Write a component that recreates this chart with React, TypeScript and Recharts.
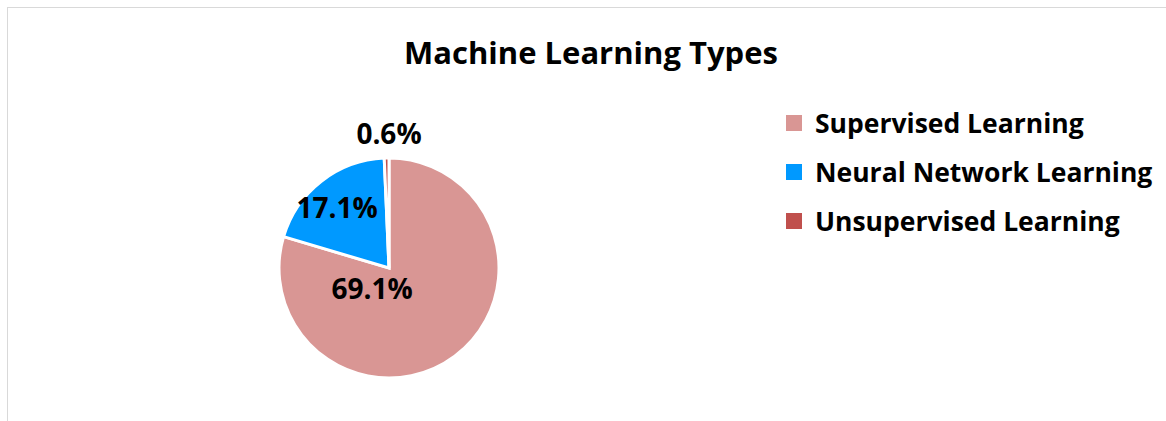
import { PieChart, Pie, Cell, Legend } from 'recharts';

const categories = ['Supervised Learning', 'Neural Network Learning', 'Unsupervised Learning'];
const values = [69.1, 17.1, 0.6];
const labels = ['69.1%', '17.1%', '0.6%'];
const colors = ['#d99694', '#0099ff', '#c0504d'];

// label offsets from the pie centre (Excel "best fit" placement)
const labelOffsets = [
  { dx: -17, dy: 20 },
  { dx: -52, dy: -61 },
  { dx: 0, dy: -135 },
];

const data = categories.map((name, i) => ({ name, value: values[i] }));

const FONT = '"Open Sans", sans-serif';

const renderLabel = (props: any) => {
  const { cx, cy, index } = props;
  const o = labelOffsets[index];
  return (
    <text
      x={cx + o.dx}
      y={cy + o.dy}
      textAnchor="middle"
      dominantBaseline="central"
      fontFamily={FONT}
      fontWeight={700}
      fontSize={28}
      fill="#000"
    >
      {labels[index]}
    </text>
  );
};

const LegendContent = () => (
  <div style={{ fontFamily: FONT }}>
    {categories.map((c, i) => (
      <div key={c} style={{ display: 'flex', alignItems: 'center', height: 49 }}>
        <span style={{ width: 16, height: 16, background: colors[i], display: 'inline-block', marginRight: 13 }} />
        <span style={{ fontSize: 26.5, fontWeight: 700, color: '#000', whiteSpace: 'nowrap' }}>{c}</span>
      </div>
    ))}
  </div>
);

export default function App() {
  return (
    <div style={{ position: 'absolute', left: 0, top: 0, width: 1166, height: 421, background: '#fff', overflow: 'hidden' }}>
      <div style={{ position: 'absolute', left: 7, top: 7, width: 1200, height: 450, border: '1px solid #d9d9d9' }} />
      <div
        style={{
          position: 'absolute', left: 0, top: 33, width: 1182, textAlign: 'center',
          fontFamily: FONT, fontWeight: 700, fontSize: 31, lineHeight: '38px', color: '#000',
        }}
      >
        Machine Learning Types
      </div>
      <div style={{ position: 'absolute', left: 0, top: 0 }}>
        <PieChart width={1166} height={421} margin={{ top: 0, right: 0, bottom: 0, left: 0 }}>
          <Pie
            data={data}
            dataKey="value"
            nameKey="name"
            cx={389}
            cy={268}
            outerRadius={110}
            startAngle={90}
            endAngle={-270}
            stroke="#fff"
            strokeWidth={3}
            label={renderLabel}
            labelLine={false}
            isAnimationActive={false}
          >
            {data.map((d, i) => (
              <Cell key={d.name} fill={colors[i]} />
            ))}
          </Pie>
          <Legend
            layout="vertical"
            align="right"
            verticalAlign="top"
            content={<LegendContent />}
            wrapperStyle={{ position: 'absolute', left: 786, top: 98, width: 380 }}
          />
        </PieChart>
      </div>
    </div>
  );
}
